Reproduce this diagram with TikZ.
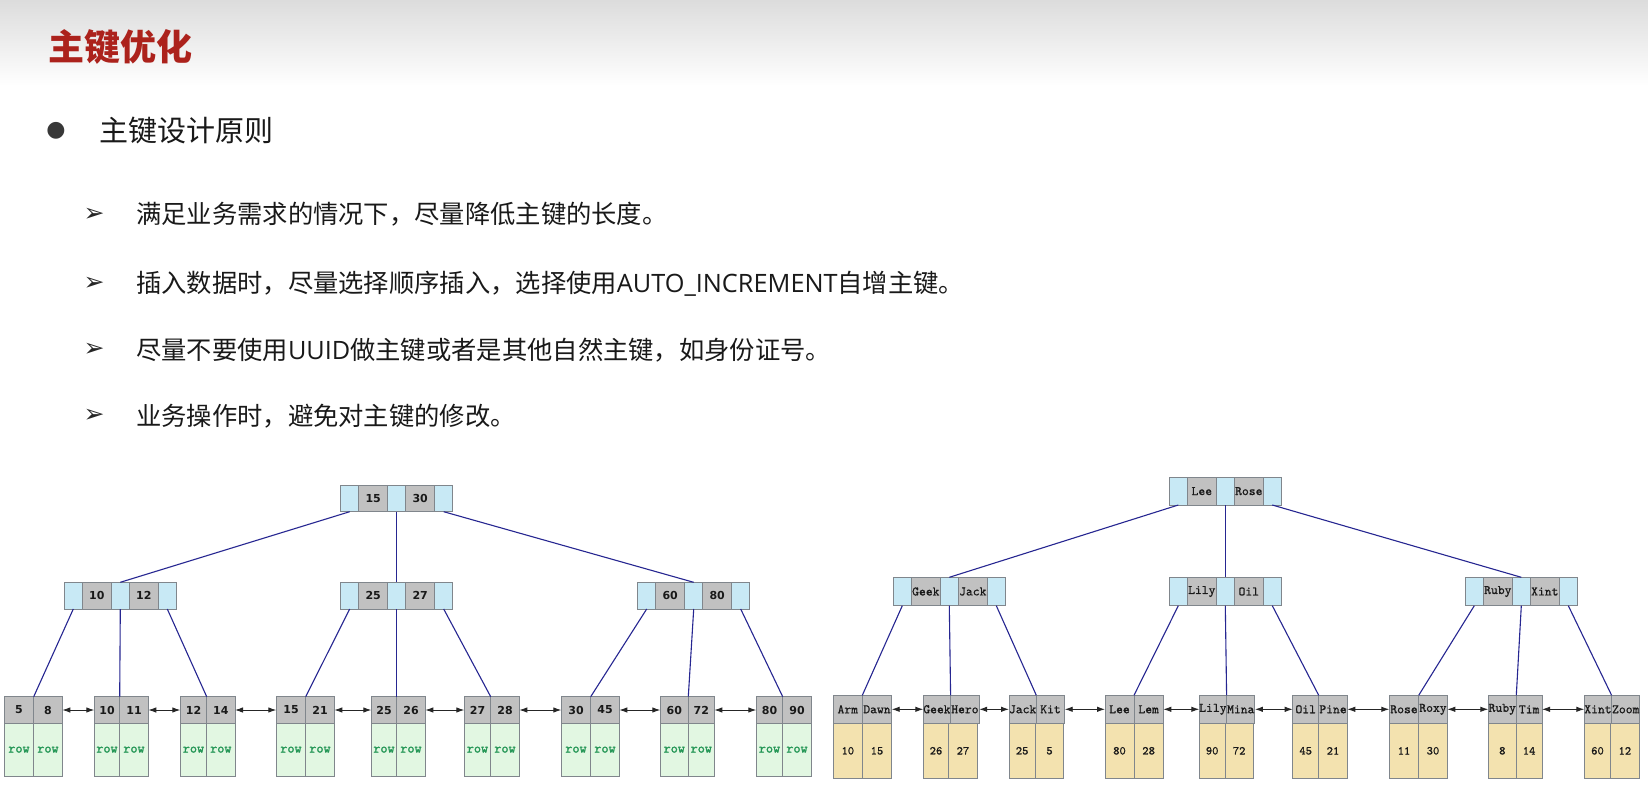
\documentclass[tikz,border=0pt]{standalone}
\usepackage{fontspec}
\newfontfamily\cjk{Noto Sans CJK SC}
\newfontfamily\dejavu{DejaVu Sans}
\newfontfamily\lat{Open Sans}
\newfontfamily\monob{lmmono10-regular.otf}[FakeBold=1.6]
\newfontfamily\monom{lmmono10-regular.otf}[FakeBold=0.8]
\usetikzlibrary{arrows.meta}
\definecolor{ptrc}{RGB}{200,233,245}
\definecolor{keyc}{RGB}{193,193,193}
\definecolor{cellb}{RGB}{128,134,140}
\definecolor{leafg}{RGB}{226,247,226}
\definecolor{leaft}{RGB}{243,226,175}
\definecolor{edgec}{RGB}{38,38,145}
\definecolor{rowc}{RGB}{35,150,85}
\definecolor{titlec}{RGB}{172,34,28}
\definecolor{headc}{RGB}{220,220,220}
\definecolor{txtc}{RGB}{25,25,25}
\newcommand{\inode}[6]{%
  \node[ptr, minimum height=#4pt] (#1p1) at (#2,#3) {};
  \node[key, minimum height=#4pt] (#1k1) at (#1p1.north east) {#5};
  \node[ptr, minimum height=#4pt] (#1p2) at (#1k1.north east) {};
  \node[key, minimum height=#4pt] (#1k2) at (#1p2.north east) {#6};
  \node[ptr, minimum height=#4pt] (#1p3) at (#1k2.north east) {};
}
\newcommand{\leafnode}[9]{%
  \node[leafkey, minimum width=#4pt] (#1a) at (#2,#3) {#6};
  \node[leafkey, minimum width=#5pt] (#1b) at (#1a.north east) {#7};
  \node[leafval, minimum width=#4pt] (#1c) at (#1a.south west) {#8};
  \node[leafval, minimum width=#5pt] (#1d) at (#1c.north east) {#9};
}
\tikzset{
  cell/.style={draw=cellb, line width=0.9pt, inner sep=0pt, outer sep=0pt, anchor=north west},
  ptr/.style={cell, fill=ptrc, minimum width=18pt},
  key/.style={cell, fill=keyc, minimum width=29pt, text=txtc},
  tedge/.style={draw=edgec, line width=1.1pt},
  link/.style={{Latex[length=8pt,width=5.5pt]}-{Latex[length=8pt,width=5.5pt]}, line width=0.9pt, draw=black!85},
}
\begin{document}
\begin{tikzpicture}[x=1pt,y=-1pt]
\useasboundingbox (0,0) rectangle (1648,784);
\fill[white] (0,0) rectangle (1648,784);
\shade[top color=headc, bottom color=white] (0,0) rectangle (1648,86);

\node[anchor=west, inner sep=0pt, font=\cjk\bfseries\fontsize{36}{40}\selectfont, text=titlec] (title) at (48,47) {主键优化};

\node[inner sep=0pt, font=\dejavu\fontsize{22}{22}\selectfont, text=black!78] (dot) at (56,130.5) {●};
\node[anchor=west, inner sep=0pt, font=\cjk\fontsize{29}{32}\selectfont, text=txtc] (h1) at (99,130.5) {主键设计原则};

\tikzset{sub/.style={anchor=west, inner sep=0pt, font=\cjk\fontsize{25.3}{28}\selectfont, text=txtc},
  arr/.style={inner sep=0pt, font=\dejavu\fontsize{25}{25}\selectfont, text=black!85}}
\node[arr] (a1) at (94,214.5) {➢};
\node[sub] (s1) at (136,214.5) {满足业务需求的情况下，尽量降低主键的长度。};
\node[arr] (a2) at (94,283.5) {➢};
\node[sub] (s2) at (136,283.5) {插入数据时，尽量选择顺序插入，选择使用{\lat AUTO\_INCREMENT}自增主键。};
\node[arr] (a3) at (94,350) {➢};
\node[sub] (s3) at (136,350) {尽量不要使用{\lat UUID}做主键或者是其他自然主键，如身份证号。};
\node[arr] (a4) at (94,416) {➢};
\node[sub] (s4) at (136,416) {业务操作时，避免对主键的修改。};

% ---------- left tree ----------
\begin{scope}[
  key/.append style={font=\dejavu\bfseries\fontsize{11}{11}\selectfont},
  leafkey/.style={cell, fill=keyc, minimum height=26.6pt, font=\dejavu\bfseries\fontsize{11}{11}\selectfont, text=txtc},
  leafval/.style={cell, fill=leafg, minimum height=52.7pt, font=\monob\fontsize{13.5}{13.5}\selectfont, text=rowc}]
\inode{LR}{340.7}{485}{26.7}{15}{30}
\inode{LA}{64.3}{582.3}{26.7}{10}{12}
\inode{LB}{340.7}{582.3}{26.7}{25}{27}
\inode{LC}{637.7}{582.3}{26.7}{60}{80}
\leafnode{l1}{4.3}{696.7}{29.4}{28.6}{5}{8}{row}{row}
\leafnode{l2}{94.3}{696.7}{25.4}{28.6}{10}{11}{row}{row}
\leafnode{l3}{180.3}{696.7}{26.4}{28.3}{12}{14}{row}{row}
\leafnode{l4}{276.3}{696.7}{29.4}{28.6}{15}{21}{row}{row}
\leafnode{l5}{371.3}{696.7}{25.4}{28.6}{25}{26}{row}{row}
\leafnode{l6}{464.3}{696.7}{26.4}{28.6}{27}{28}{row}{row}
\leafnode{l7}{561.3}{696.7}{29.4}{28.6}{30}{45}{row}{row}
\leafnode{l8}{660.3}{696.7}{28}{26}{60}{72}{row}{row}
\leafnode{l9}{756.3}{696.7}{26.4}{28.6}{80}{90}{row}{row}
\end{scope}
\draw[tedge] (LRp1.south) -- (LAp2.north);
\draw[tedge] (LRp2.south) -- (LBp2.north);
\draw[tedge] (LRp3.south) -- (LCp2.north);
\draw[tedge] (LAp1.south) -- (l1a.north east);
\draw[tedge] (LAp2.south) -- (l2a.north east);
\draw[tedge] (LAp3.south) -- (l3a.north east);
\draw[tedge] (LBp1.south) -- (l4a.north east);
\draw[tedge] (LBp2.south) -- (l5a.north east);
\draw[tedge] (LBp3.south) -- (l6a.north east);
\draw[tedge] (LCp1.south) -- (l7a.north east);
\draw[tedge] (LCp2.south) -- (l8a.north east);
\draw[tedge] (LCp3.south) -- (l9a.north east);
\draw[link] (l1b.east) -- (l2a.west);
\draw[link] (l2b.east) -- (l3a.west);
\draw[link] (l3b.east) -- (l4a.west);
\draw[link] (l4b.east) -- (l5a.west);
\draw[link] (l5b.east) -- (l6a.west);
\draw[link] (l6b.east) -- (l7a.west);
\draw[link] (l7b.east) -- (l8a.west);
\draw[link] (l8b.east) -- (l9a.west);

% ---------- right tree ----------
\begin{scope}[
  key/.append style={font=\monom\fontsize{13}{13}\selectfont},
  leafkey/.style={cell, fill=keyc, minimum height=28pt, font=\monom\fontsize{13}{13}\selectfont, text=txtc},
  leafval/.style={cell, fill=leaft, minimum height=55pt, font=\monom\fontsize{12}{12}\selectfont, text=txtc}]
\inode{RR}{1169.3}{477.3}{27.7}{Lee}{Rose}
\inode{RA}{893.3}{577.3}{28.4}{Geek}{Jack}
\inode{RB}{1169.3}{577.3}{28.4}{Lily}{Oil}
\inode{RC}{1465.3}{577.3}{28.4}{Ruby}{Xint}
\leafnode{r1}{833.3}{695.3}{29}{29.4}{Arm}{Dawn}{10}{15}
\leafnode{r2}{923.3}{695.3}{25.4}{28.6}{Geek}{Hero}{26}{27}
\leafnode{r3}{1009}{695.3}{26.3}{28.4}{Jack}{Kit}{25}{5}
\leafnode{r4}{1105}{695.3}{29}{29.3}{Lee}{Lem}{80}{28}
\leafnode{r5}{1199.3}{695.3}{25.7}{28.3}{Lily}{Mina}{90}{72}
\leafnode{r6}{1292.7}{695.3}{26}{28.6}{Oil}{Pine}{45}{21}
\leafnode{r7}{1389.3}{695.3}{29.4}{28.6}{Rose}{Roxy}{11}{30}
\leafnode{r8}{1488.3}{695.3}{28}{25.7}{Ruby}{Tim}{8}{14}
\leafnode{r9}{1584.3}{695.3}{26.4}{28.3}{Xint}{Zoom}{60}{12}
\end{scope}
\draw[tedge] (RRp1.south) -- (RAp2.north);
\draw[tedge] (RRp2.south) -- (RBp2.north);
\draw[tedge] (RRp3.south) -- (RCp2.north);
\draw[tedge] (RAp1.south) -- (r1a.north east);
\draw[tedge] (RAp2.south) -- (r2a.north east);
\draw[tedge] (RAp3.south) -- (r3a.north east);
\draw[tedge] (RBp1.south) -- (r4a.north east);
\draw[tedge] (RBp2.south) -- (r5a.north east);
\draw[tedge] (RBp3.south) -- (r6a.north east);
\draw[tedge] (RCp1.south) -- (r7a.north east);
\draw[tedge] (RCp2.south) -- (r8a.north east);
\draw[tedge] (RCp3.south) -- (r9a.north east);
\draw[link] (r1b.east) -- (r2a.west);
\draw[link] (r2b.east) -- (r3a.west);
\draw[link] (r3b.east) -- (r4a.west);
\draw[link] (r4b.east) -- (r5a.west);
\draw[link] (r5b.east) -- (r6a.west);
\draw[link] (r6b.east) -- (r7a.west);
\draw[link] (r7b.east) -- (r8a.west);
\draw[link] (r8b.east) -- (r9a.west);
\end{tikzpicture}
\end{document}
